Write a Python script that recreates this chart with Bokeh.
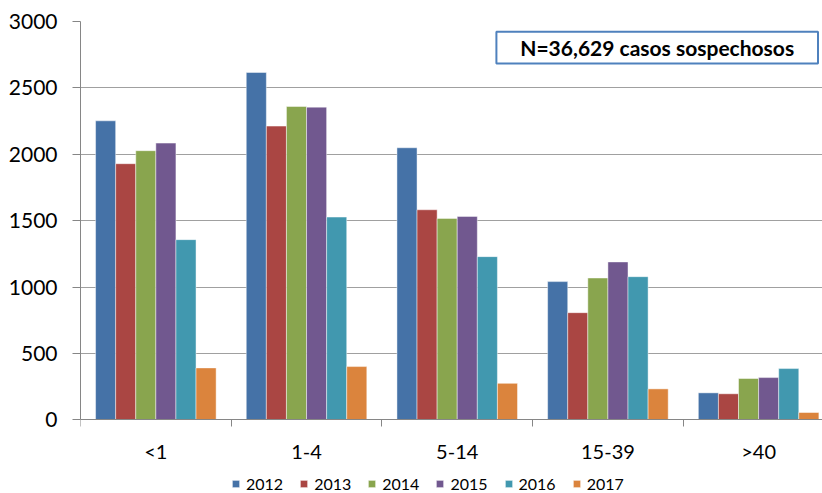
from bokeh.plotting import figure
from bokeh.models import (ColumnDataSource, FixedTicker, Legend, LegendItem,
                          BoxAnnotation, Label, Range1d)
from bokeh.embed import file_html
from bokeh.resources import INLINE

# ---- data ----
categories = ["<1", "1-4", "5-14", "15-39", ">40"]
years = ["2012", "2013", "2014", "2015", "2016", "2017"]
v2012 = [2252, 2616, 2049, 1041, 203]
v2013 = [1929, 2212, 1582, 807, 196]
v2014 = [2027, 2360, 1517, 1068, 311]
v2015 = [2084, 2355, 1532, 1189, 318]
v2016 = [1357, 1527, 1229, 1078, 386]
v2017 = [391, 401, 275, 233, 55]
y_ticks = [0, 500, 1000, 1500, 2000, 2500, 3000]
annotation_text = "N=36,629 casos sospechosos"

series = [v2012, v2013, v2014, v2015, v2016, v2017]
colors = ["#4572A7", "#AA4643", "#89A54E", "#71588F", "#4198AF", "#DB843D"]

FONT = "Lato"
n_years = len(years)
group_width = 0.8
bar_w = group_width / n_years

# frame extends to the bottom of the canvas so the legend (drawn inside the
# frame) is not clipped; the x axis sits at y = 0
p = figure(width=822, height=493, output_backend="svg", toolbar_location=None,
           x_range=Range1d(0, 4.924), y_range=Range1d(-555, 3000),
           min_border_left=80, min_border_right=0, min_border_top=21,
           min_border_bottom=0)
p.outline_line_color = None
p.background_fill_color = "white"

renderers = []
for j, (yr, vals, col) in enumerate(zip(years, series, colors)):
    xs = [i + (1 - group_width) / 2 + (j + 0.5) * bar_w for i in range(len(categories))]
    src = ColumnDataSource(dict(x=xs, top=vals))
    r = p.vbar(x="x", top="top", width=bar_w, source=src, fill_color=col,
               line_color="white", line_alpha=0.45, line_width=1)
    renderers.append((yr, r))

# y axis
p.yaxis.ticker = FixedTicker(ticks=y_ticks)
p.yaxis.bounds = (0, 3000)
p.yaxis.axis_line_color = "#868686"
p.yaxis.major_tick_line_color = "#868686"
p.yaxis.major_tick_out = 8
p.yaxis.major_tick_in = 0
p.yaxis.minor_tick_line_color = None
p.yaxis.major_label_standoff = 15
p.yaxis.major_label_text_font = FONT
p.yaxis.major_label_text_font_size = "21px"
p.yaxis.major_label_text_color = "#000000"

# x axis
centers = [i + 0.5 for i in range(len(categories))]
bounds = [float(i) for i in range(len(categories) + 1)]
p.xaxis.fixed_location = 0
p.xaxis.ticker = FixedTicker(ticks=centers, minor_ticks=bounds)
p.xaxis.major_label_overrides = {c: lab for c, lab in zip(centers, categories)}
p.xaxis.axis_line_color = "#868686"
p.xaxis.major_tick_out = 0
p.xaxis.major_tick_in = 0
p.xaxis.major_tick_line_color = None
p.xaxis.minor_tick_out = 7
p.xaxis.minor_tick_in = 0
p.xaxis.minor_tick_line_color = "#868686"
p.xaxis.major_label_standoff = 12
p.xaxis.major_label_text_font = FONT
p.xaxis.major_label_text_font_size = "20px"
p.xaxis.major_label_text_color = "#000000"

p.xgrid.visible = False
p.ygrid.grid_line_color = "#A0A0A0"
p.ygrid.grid_line_width = 1

# annotation box
box = BoxAnnotation(left=2.760, right=4.894, bottom=2683, top=2922,
                    fill_color="white", fill_alpha=1.0,
                    line_color="#4F81BD", line_width=2, line_alpha=1.0)
p.add_layout(box)
lab = Label(x=3.827, y=2801, text=annotation_text, text_align="center",
            text_baseline="middle", text_font=FONT, text_font_style="bold",
            text_font_size="21px", text_color="#000000")
p.add_layout(lab)

# legend
legend = Legend(items=[LegendItem(label=yr, renderers=[r]) for yr, r in renderers],
                orientation="horizontal", location=(151, 0),
                padding=0, margin=0, spacing=16,
                glyph_width=9, glyph_height=9, label_standoff=6,
                label_height=16, label_width=20,
                label_text_font=FONT, label_text_font_size="16px",
                label_text_color="#000000",
                border_line_color=None, background_fill_alpha=0)
p.add_layout(legend, "center")

open("out.html", "w").write(file_html(p, INLINE))
